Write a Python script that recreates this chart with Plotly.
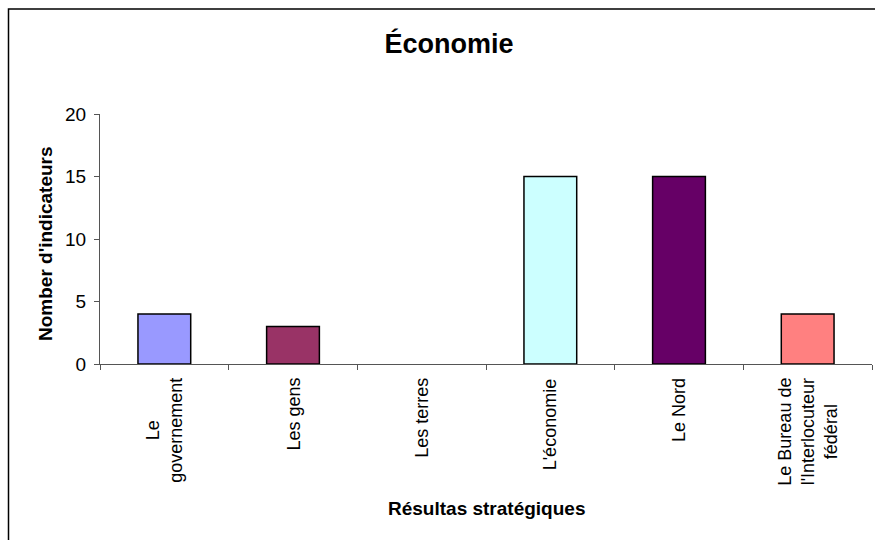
import plotly.graph_objects as go

categories = ["Le<br>governement", "Les gens", "Les terres", "L'économie", "Le Nord",
              "Le Bureau de<br>l'Interlocuteur<br>fédéral"]
values = [4, 3, 0, 15, 15, 4]
colors = ["#9999FF", "#993366", "#FFFFCC", "#CCFFFF", "#660066", "#FF8080"]
y_ticks = [0, 5, 10, 15, 20]

FONT = "Liberation Sans, Arial, sans-serif"
W, H = 875, 540
L, R, T, B = 100, 3, 114, 176
pw, ph = W - L - R, H - T - B

def px_to_paper_x(px):
    return (px - L) / pw

def px_to_paper_y(py):
    return (H - B - py) / ph

line_widths = [1.5 if v > 0 else 0 for v in values]

fig = go.Figure()
fig.add_trace(go.Bar(
    x=categories, y=values, width=0.41,
    marker=dict(color=colors, line=dict(color="#000000", width=line_widths)),
    showlegend=False, hoverinfo="skip"
))

annotations = []
for c in categories:
    annotations.append(dict(
        x=c, xref="x", y=px_to_paper_y(376), yref="paper",
        text=c, textangle=-90, showarrow=False, xanchor="center", yanchor="top",
        align="center", font=dict(family=FONT, size=18, color="#000000")
    ))
annotations.append(dict(
    x=0.5, xref="paper", y=px_to_paper_y(508), yref="paper",
    text="<b>Résultas stratégiques</b>", showarrow=False, xanchor="center", yanchor="middle",
    font=dict(family=FONT, size=19, color="#000000")
))
annotations.append(dict(
    x=px_to_paper_x(45), xref="paper", y=px_to_paper_y(244), yref="paper",
    text="<b>Nomber d'indicateurs</b>", textangle=-90, showarrow=False,
    xanchor="center", yanchor="middle",
    font=dict(family=FONT, size=19, color="#000000")
))

fig.update_layout(
    width=W, height=H,
    margin=dict(l=L, r=R, t=T, b=B, pad=0),
    paper_bgcolor="#FFFFFF", plot_bgcolor="#FFFFFF",
    title=dict(text="<b>Économie</b>", x=449 / W, xref="container", xanchor="center",
               y=1 - 44 / H, yref="container", yanchor="middle",
               font=dict(family=FONT, size=27, color="#000000")),
    xaxis=dict(type="category", showticklabels=False, showline=True, linecolor="#555555",
               linewidth=1, ticks="outside", tickson="boundaries", ticklen=5,
               tickcolor="#555555", showgrid=False, zeroline=False),
    yaxis=dict(range=[0, 20], tickvals=y_ticks, showline=True, linecolor="#555555",
               linewidth=1, ticks="outside", ticklen=5, tickcolor="#555555",
               showgrid=False, zeroline=False, ticklabelstandoff=4,
               tickfont=dict(family=FONT, size=19, color="#000000")),
    annotations=annotations,
    shapes=[dict(type="rect", xref="paper", yref="paper",
                 x0=px_to_paper_x(8.5), x1=px_to_paper_x(900),
                 y0=px_to_paper_y(560), y1=px_to_paper_y(9),
                 line=dict(color="#000000", width=1.5), fillcolor="rgba(0,0,0,0)",
                 layer="below")],
    bargap=0.59,
)

fig.write_html("out.html")
